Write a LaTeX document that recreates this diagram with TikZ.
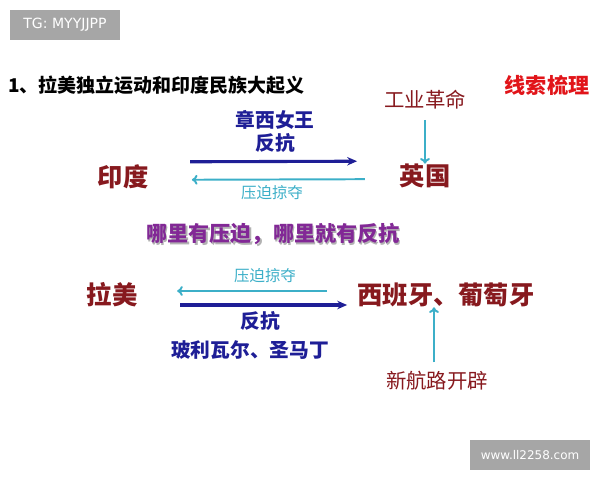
\documentclass[tikz,border=0pt]{standalone}
\usepackage{fontspec}
\setmainfont{Noto Sans CJK SC}
\newfontfamily\cjk{Noto Sans CJK SC}
\newfontfamily\wmfont{DejaVu Sans}
\usepackage{xcolor}
\usepackage{tikz}
\usetikzlibrary{arrows.meta, positioning, calc}

\definecolor{deepred}{RGB}{135,25,30}
\definecolor{brightred}{RGB}{225,20,25}
\definecolor{deepblue}{RGB}{30,30,150}
\definecolor{lightcyan}{RGB}{60,175,200}
\definecolor{plum}{RGB}{130,40,150}
\definecolor{markgray}{RGB}{166,166,166}

\tikzset{
  place/.style={text=deepred, font=\cjk\bfseries\fontsize{18}{18}\selectfont, inner sep=0pt},
  cause/.style={text=deepred, font=\cjk\fontsize{14.5}{14.5}\selectfont, inner sep=0pt},
  rebel/.style={text=deepblue, font=\cjk\bfseries\fontsize{14}{14}\selectfont, inner sep=0pt},
  rob/.style={text=lightcyan, font=\cjk\fontsize{11}{11}\selectfont, inner sep=0pt},
  push/.style={draw=deepblue, line width=2.2pt, -{Stealth[length=7pt,width=6pt]}},
  press/.style={draw=lightcyan, line width=1.4pt, -{To[length=4pt,width=7pt]}},
  wmark/.style={fill=markgray, text=white, font=\wmfont\fontsize{8.5}{8.5}\selectfont,
    minimum height=0.75cm, inner xsep=0pt}
}

\begin{document}
\begin{tikzpicture}[x=0.025cm, y=-0.025cm]
      \useasboundingbox (0,0) rectangle (600,480);

      % watermarks
      \node[wmark, minimum width=2.75cm, font=\wmfont\fontsize{10}{10}\selectfont] (tag) at (65,25) {TG: MYYJJPP};
      \node[wmark, minimum width=3cm] (site) at (530,455) {www.ll2258.com};

      % heading
      \node[font=\cjk\bfseries\fontsize{13.5}{13.5}\selectfont, anchor=west, inner sep=0pt] (title) at (8,85) {1、拉美独立运动和印度民族大起义};
      \node[text=brightred, font=\cjk\bfseries\fontsize{15}{15}\selectfont, inner sep=0pt] (clue) at (547,85) {线索梳理};

      % India and Britain
      \node[cause] (industry) at (425,100) {工业革命};
      \node[place] (britain) at (425,176) {英国};
      \node[place] (india) at (123,177) {印度};

      \draw[push] ([yshift=0.375cm]$(india)!0.222!(britain)$) -- ([yshift=0.375cm]$(india)!0.775!(britain)$);
      \draw[press] ([yshift=-0.075cm]$(india)!0.801!(britain)$) -- ([yshift=-0.075cm]$(india)!0.228!(britain)$);
      \draw[press, shorten <=0.25cm] (industry.south) -- (britain.north);

      \node[rebel] (queen) at (275,120) {章西女王};
      \node[rebel] (resist1) at (275,143) {反抗};
      \node[rob] (rob1) at (272,193) {压迫掠夺};

      % slogan
      \node[text=black!30, font=\cjk\bfseries\fontsize{15}{15}\selectfont, inner sep=0pt] (sloganshadow) at (274.5,235.5) {哪里有压迫，哪里就有反抗};
      \node[text=plum, font=\cjk\bfseries\fontsize{15}{15}\selectfont, inner sep=0pt] (slogan) at (273,234) {哪里有压迫，哪里就有反抗};

      % Latin America and Iberia
      \node[place] (latam) at (112,295) {拉美};
      \node[place] (iberia) at (446,295) {西班牙、葡萄牙};
      \node[cause] (route) at (437,381) {新航路开辟};

      \draw[press] ([yshift=0.1cm]$(latam)!0.644!(iberia)$) -- ([yshift=0.1cm]$(latam)!0.195!(iberia)$);
      \draw[push] ([yshift=-0.25cm]$(latam)!0.204!(iberia)$) -- ([yshift=-0.25cm]$(latam)!0.704!(iberia)$);
      \draw[press, shorten <=0.22cm] ([xshift=-0.075cm]route.north) -- ([xshift=-0.075cm]route.north |- iberia.south);

      \node[rob] (rob2) at (265,276) {压迫掠夺};
      \node[rebel] (resist2) at (260,321) {反抗};
      \node[rebel] (heroes) at (250,350) {玻利瓦尔、圣马丁};
    \end{tikzpicture}
\end{document}
